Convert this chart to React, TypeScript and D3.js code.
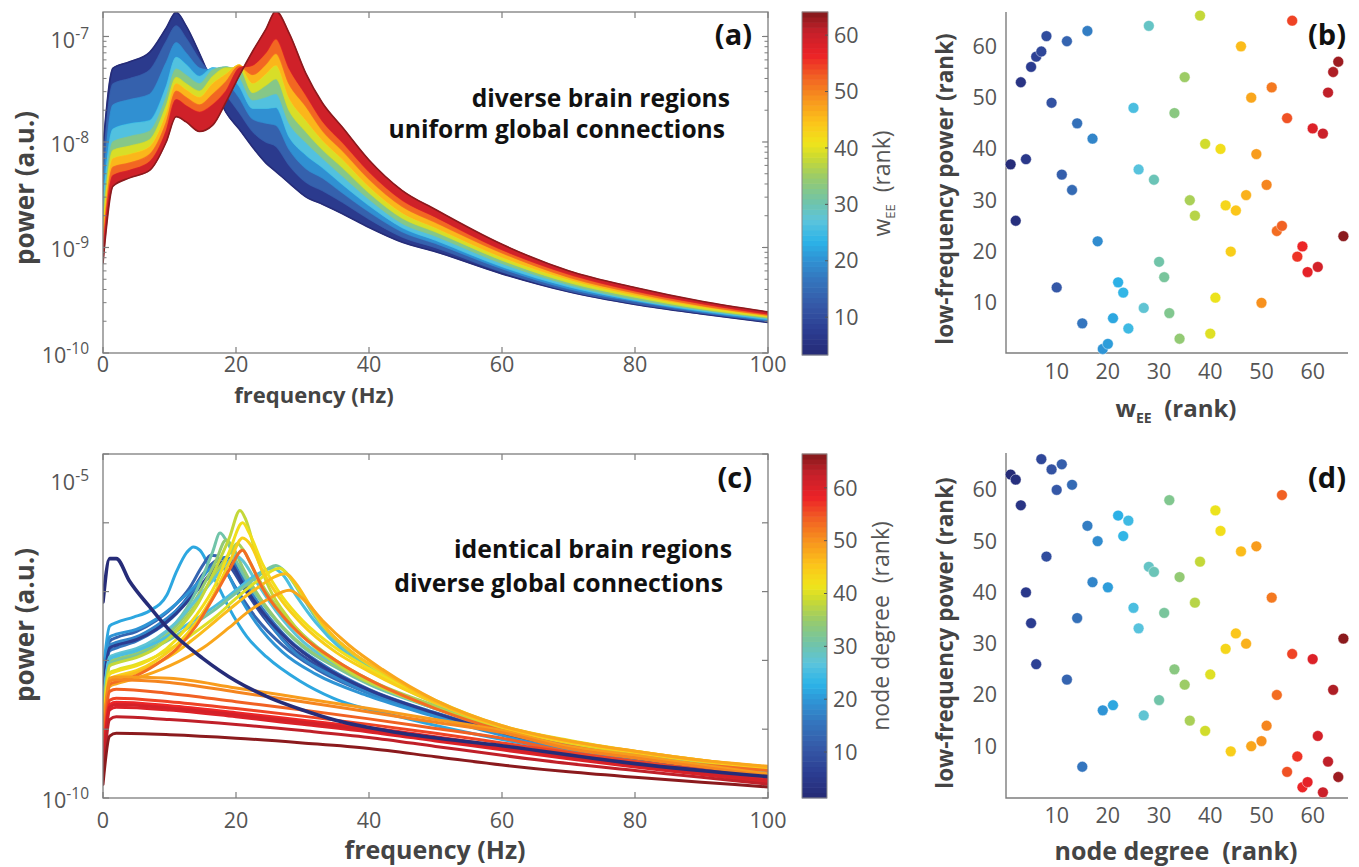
import React, { useEffect, useRef } from 'react';
import * as d3 from 'd3';

// ---- panel (a): spectra for a subset of w_EE ranks, log10(power) on freqA ----
const freqA = [0, 1.5, 4, 7, 9.5, 11, 12.5, 14.5, 16.5, 18.5, 20.5, 22.5, 24.5, 26, 28, 30.5, 33, 36, 40, 45, 50, 60, 70, 80, 90, 100];
const ranksA = [1, 8, 15, 22, 29, 36, 43, 50, 57, 66];
const spectraA = [
  [-8.05, -7.30, -7.24, -7.15, -6.92, -6.77, -6.90, -7.16, -7.45, -7.72, -7.88, -8.05, -8.20, -8.28, -8.39, -8.52, -8.59, -8.68, -8.81, -8.95, -9.04, -9.25, -9.42, -9.54, -9.63, -9.71],
  [-8.25, -7.45, -7.40, -7.32, -7.05, -6.90, -7.02, -7.22, -7.38, -7.55, -7.72, -7.90, -8.00, -8.04, -8.22, -8.38, -8.46, -8.57, -8.73, -8.90, -9.00, -9.23, -9.41, -9.53, -9.62, -9.70],
  [-8.45, -7.65, -7.60, -7.55, -7.25, -7.06, -7.16, -7.30, -7.33, -7.42, -7.58, -7.78, -7.82, -7.84, -8.07, -8.25, -8.34, -8.48, -8.66, -8.85, -8.96, -9.20, -9.39, -9.51, -9.61, -9.69],
  [-8.60, -7.88, -7.83, -7.80, -7.48, -7.20, -7.27, -7.38, -7.30, -7.33, -7.47, -7.68, -7.68, -7.67, -7.95, -8.12, -8.24, -8.40, -8.60, -8.81, -8.93, -9.18, -9.37, -9.50, -9.60, -9.68],
  [-8.70, -8.00, -7.95, -7.90, -7.58, -7.31, -7.37, -7.45, -7.32, -7.29, -7.38, -7.60, -7.57, -7.54, -7.82, -8.00, -8.15, -8.32, -8.54, -8.77, -8.89, -9.15, -9.35, -9.49, -9.59, -9.67],
  [-8.80, -8.08, -8.04, -7.98, -7.66, -7.39, -7.45, -7.52, -7.38, -7.30, -7.30, -7.53, -7.46, -7.40, -7.70, -7.90, -8.07, -8.24, -8.48, -8.72, -8.85, -9.12, -9.33, -9.47, -9.58, -9.66],
  [-8.90, -8.16, -8.12, -8.05, -7.74, -7.45, -7.51, -7.58, -7.45, -7.36, -7.27, -7.44, -7.35, -7.27, -7.58, -7.79, -7.98, -8.16, -8.42, -8.67, -8.81, -9.09, -9.30, -9.45, -9.56, -9.65],
  [-8.98, -8.24, -8.20, -8.12, -7.82, -7.52, -7.58, -7.65, -7.55, -7.43, -7.28, -7.36, -7.26, -7.16, -7.45, -7.66, -7.89, -8.08, -8.35, -8.61, -8.76, -9.05, -9.28, -9.43, -9.55, -9.64],
  [-9.06, -8.32, -8.27, -8.19, -7.90, -7.60, -7.66, -7.72, -7.65, -7.52, -7.30, -7.27, -7.15, -7.02, -7.30, -7.55, -7.80, -8.00, -8.28, -8.55, -8.71, -9.02, -9.25, -9.41, -9.53, -9.63],
  [-9.15, -8.42, -8.34, -8.27, -8.00, -7.76, -7.81, -7.90, -7.84, -7.62, -7.37, -7.14, -6.93, -6.76, -6.97, -7.35, -7.63, -7.86, -8.17, -8.46, -8.64, -8.97, -9.22, -9.38, -9.51, -9.61],
];

// ---- panel (c): spectra for a subset of node-degree ranks, [freq, log10(power)] ----
const ranksC = [21, 8, 12, 15, 17, 19, 5, 30, 34, 36, 27, 25, 31, 38, 40, 42, 44, 46, 48, 53, 49, 51, 54, 56, 58, 60, 61, 63, 66, 1];
const spectraC = [
  [[0, -8.2], [1, -7.5], [2, -7.45], [4.6, -7.37], [7, -7.28], [9.6, -7.05], [11, -6.72], [12.6, -6.43], [13.6, -6.35], [14.6, -6.4], [16.6, -6.78], [19.6, -7.35], [21.6, -7.65], [24.6, -7.95], [29.6, -8.3], [34.6, -8.55], [44.6, -8.82], [60, -9.15], [80, -9.45], [100, -9.63]],
  [[0, -8.5], [1, -7.8], [2, -7.76], [5, -7.68], [8, -7.52], [11, -7.28], [13, -7.05], [15, -6.75], [17, -6.55], [18, -6.52], [19, -6.62], [21, -6.92], [24, -7.35], [28, -7.78], [33, -8.12], [40, -8.45], [50, -8.78], [60, -9.05], [80, -9.43], [100, -9.65]],
  [[0, -8.4], [1, -7.72], [2, -7.67], [5, -7.58], [8, -7.42], [11, -7.18], [13, -6.95], [15, -6.62], [16.2, -6.47], [17, -6.48], [18, -6.62], [20, -6.95], [23, -7.38], [27, -7.78], [32, -8.12], [40, -8.48], [50, -8.8], [60, -9.07], [80, -9.44], [100, -9.66]],
  [[0, -8.5], [1, -7.86], [2, -7.82], [5, -7.72], [8, -7.56], [11, -7.32], [14, -6.93], [16.5, -6.6], [18.5, -6.5], [19.5, -6.56], [21, -6.82], [24, -7.25], [28, -7.7], [33, -8.06], [40, -8.42], [50, -8.76], [60, -9.04], [80, -9.42], [100, -9.64]],
  [[0, -8.45], [1, -7.78], [2, -7.74], [5, -7.66], [8, -7.5], [11, -7.28], [14, -6.98], [17, -6.7], [19, -6.55], [20, -6.58], [22, -6.95], [25, -7.45], [29, -7.9], [34, -8.2], [40, -8.48], [50, -8.8], [60, -9.07], [80, -9.44], [100, -9.65]],
  [[0, -8.35], [1, -7.66], [2, -7.62], [5, -7.55], [8, -7.4], [11, -7.18], [14, -6.9], [16, -6.68], [17.5, -6.62], [18.5, -6.7], [20, -6.98], [23, -7.45], [27, -7.88], [32, -8.2], [40, -8.52], [50, -8.82], [60, -9.09], [80, -9.45], [100, -9.66]],
  [[0, -8.45], [1, -7.82], [2, -7.78], [5, -7.7], [8, -7.55], [11, -7.32], [14, -7.0], [16.5, -6.7], [18.5, -6.55], [19.5, -6.62], [21, -6.88], [24, -7.3], [28, -7.72], [33, -8.08], [40, -8.43], [50, -8.77], [60, -9.05], [80, -9.42], [100, -9.65]],
  [[0, -8.7], [1, -7.98], [2, -7.94], [5, -7.86], [8, -7.7], [11, -7.45], [14, -7.0], [16.5, -6.42], [17.6, -6.15], [18.5, -6.25], [20, -6.55], [22, -6.9], [25, -7.3], [30, -7.8], [35, -8.1], [40, -8.35], [50, -8.7], [60, -8.98], [80, -9.38], [100, -9.6]],
  [[0, -8.75], [1, -8.02], [2, -7.98], [5, -7.9], [8, -7.75], [11, -7.5], [14, -7.1], [17, -6.55], [18.5, -6.25], [19.5, -6.35], [21, -6.65], [23, -7.0], [26, -7.4], [30, -7.78], [35, -8.08], [40, -8.33], [50, -8.68], [60, -8.97], [80, -9.37], [100, -9.59]],
  [[0, -8.8], [1, -8.06], [2, -8.02], [5, -7.94], [8, -7.8], [11, -7.56], [14, -7.18], [17, -6.72], [19, -6.45], [20.2, -6.3], [21, -6.38], [23, -6.75], [26, -7.2], [30, -7.62], [35, -8.0], [40, -8.28], [50, -8.66], [60, -8.97], [80, -9.37], [100, -9.59]],
  [[0, -8.65], [1, -7.95], [2, -7.91], [5, -7.83], [8, -7.68], [11, -7.45], [14, -7.12], [17, -6.78], [19, -6.55], [20, -6.48], [21, -6.55], [23, -6.85], [26, -7.28], [30, -7.72], [35, -8.05], [40, -8.32], [50, -8.7], [60, -8.99], [80, -9.39], [100, -9.61]],
  [[0, -8.7], [1, -7.98], [2, -7.94], [5, -7.86], [8, -7.74], [11, -7.58], [14, -7.4], [17, -7.2], [20, -6.98], [23, -6.76], [25.5, -6.66], [27, -6.75], [29, -7.05], [32, -7.45], [36, -7.85], [40, -8.12], [50, -8.62], [60, -8.97], [80, -9.37], [100, -9.6]],
  [[0, -8.78], [1, -8.05], [2, -8.01], [5, -7.93], [8, -7.8], [11, -7.64], [14, -7.45], [17, -7.25], [20, -7.02], [23, -6.8], [26, -6.62], [27.5, -6.72], [29.5, -7.0], [32, -7.38], [36, -7.8], [40, -8.08], [50, -8.6], [60, -8.96], [80, -9.36], [100, -9.59]],
  [[0, -8.85], [1, -8.08], [2, -8.04], [5, -7.96], [8, -7.82], [11, -7.58], [14, -7.22], [17, -6.65], [19, -6.22], [20.6, -5.82], [21.5, -5.96], [23, -6.45], [25, -6.95], [28, -7.4], [32, -7.82], [38, -8.22], [45, -8.52], [55, -8.85], [70, -9.2], [85, -9.46], [100, -9.58]],
  [[0, -8.92], [1, -8.18], [2, -8.14], [5, -8.06], [8, -7.94], [11, -7.78], [14, -7.58], [17, -7.36], [20, -7.1], [23, -6.86], [26.6, -6.66], [28, -6.78], [30, -7.05], [33, -7.48], [37, -7.85], [42, -8.18], [50, -8.58], [60, -8.95], [70, -9.16], [80, -9.32], [90, -9.45], [100, -9.55]],
  [[0, -8.95], [1, -8.2], [2, -8.16], [5, -8.08], [8, -7.94], [11, -7.7], [14, -7.35], [17, -6.88], [19, -6.42], [21, -6.0], [22, -6.15], [24, -6.6], [27, -7.08], [30, -7.42], [35, -7.82], [40, -8.12], [50, -8.6], [60, -8.96], [70, -9.18], [80, -9.33], [90, -9.46], [100, -9.56]],
  [[0, -9.0], [1, -8.27], [2, -8.23], [5, -8.15], [8, -8.0], [11, -7.78], [14, -7.45], [17, -6.98], [19, -6.58], [21, -6.22], [22.2, -6.32], [24, -6.7], [27, -7.15], [30, -7.48], [35, -7.88], [40, -8.16], [50, -8.62], [60, -8.97], [80, -9.34], [100, -9.57]],
  [[0, -9.02], [1, -8.3], [2, -8.26], [5, -8.18], [8, -8.05], [11, -7.88], [14, -7.66], [17, -7.42], [20, -7.18], [23, -6.96], [27.5, -6.74], [29, -6.88], [31, -7.18], [34, -7.58], [38, -7.92], [42, -8.16], [50, -8.6], [60, -8.96], [70, -9.17], [80, -9.32], [90, -9.45], [100, -9.55]],
  [[0, -9.1], [1, -8.38], [2, -8.34], [5, -8.26], [10, -8.08], [15, -7.82], [19, -7.52], [22, -7.28], [25, -7.1], [28, -6.98], [30, -7.1], [33, -7.42], [37, -7.78], [42, -8.13], [50, -8.58], [60, -8.95], [70, -9.17], [80, -9.32], [90, -9.45], [100, -9.54]],
  [[0, -9.1], [1, -8.35], [2, -8.31], [5, -8.22], [8, -8.06], [11, -7.84], [14, -7.5], [17, -7.02], [19, -6.68], [21, -6.4], [22, -6.55], [24, -6.95], [27, -7.35], [30, -7.65], [35, -8.0], [40, -8.28], [50, -8.7], [60, -9.02], [80, -9.4], [100, -9.6]],
  [[0, -9.3], [1, -8.26], [2, -8.24], [10, -8.26], [20, -8.4], [30, -8.55], [40, -8.7], [50, -8.86], [60, -9.02], [70, -9.25], [80, -9.38], [90, -9.52], [100, -9.65]],
  [[0, -9.35], [1, -8.3], [2, -8.28], [10, -8.32], [20, -8.46], [30, -8.6], [40, -8.75], [50, -8.9], [60, -9.05], [70, -9.28], [80, -9.42], [90, -9.55], [100, -9.68]],
  [[0, -9.45], [1, -8.45], [2, -8.42], [10, -8.48], [20, -8.6], [30, -8.72], [40, -8.85], [50, -8.99], [60, -9.13], [70, -9.33], [80, -9.47], [90, -9.6], [100, -9.72]],
  [[0, -9.55], [1, -8.58], [2, -8.55], [10, -8.6], [20, -8.7], [30, -8.81], [40, -8.93], [50, -9.06], [60, -9.2], [70, -9.34], [80, -9.47], [90, -9.59], [100, -9.72]],
  [[0, -9.6], [1, -8.64], [2, -8.61], [10, -8.66], [20, -8.76], [30, -8.87], [40, -8.98], [50, -9.11], [60, -9.25], [70, -9.38], [80, -9.5], [90, -9.62], [100, -9.74]],
  [[0, -9.65], [1, -8.72], [2, -8.68], [10, -8.72], [20, -8.82], [30, -8.93], [40, -9.04], [50, -9.17], [60, -9.3], [70, -9.43], [80, -9.55], [90, -9.66], [100, -9.77]],
  [[0, -9.62], [1, -8.68], [2, -8.64], [10, -8.69], [20, -8.79], [30, -8.9], [40, -9.01], [50, -9.14], [60, -9.27], [70, -9.4], [80, -9.52], [90, -9.64], [100, -9.75]],
  [[0, -9.72], [1, -8.86], [2, -8.82], [10, -8.86], [20, -8.93], [30, -9.02], [40, -9.12], [50, -9.25], [60, -9.38], [70, -9.5], [80, -9.6], [90, -9.7], [100, -9.8]],
  [[0, -9.8], [1, -9.1], [2, -9.06], [10, -9.08], [20, -9.13], [30, -9.2], [40, -9.28], [50, -9.4], [60, -9.52], [70, -9.62], [80, -9.7], [90, -9.77], [100, -9.84]],
  [[0, -7.15], [1, -6.52], [2, -6.52], [4, -6.85], [7, -7.22], [10, -7.56], [15, -7.97], [20, -8.3], [25, -8.54], [30, -8.72], [35, -8.87], [45, -9.06], [60, -9.24], [80, -9.5], [100, -9.69]],
];

// ---- panels (b), (d): low-frequency power rank for x rank 1..66 ----
const lfpRankB = [37, 26, 53, 38, 56, 58, 59, 62, 49, 13, 35, 61, 32, 45, 6, 63, 42, 22, 1, 2, 7, 14, 12, 5, 48, 36, 9, 64, 34, 18, 15, 8, 47, 3, 54, 30, 27, 66, 41, 4, 11, 40, 29, 20, 28, 60, 31, 50, 39, 10, 33, 52, 24, 25, 46, 65, 19, 21, 16, 44, 17, 43, 51, 55, 57, 23];
const lfpRankD = [63, 62, 57, 40, 34, 26, 66, 47, 64, 60, 65, 23, 61, 35, 6, 53, 42, 50, 17, 41, 18, 55, 51, 54, 37, 33, 16, 45, 44, 19, 36, 58, 25, 43, 22, 15, 38, 46, 13, 24, 56, 52, 29, 9, 32, 48, 30, 10, 49, 11, 14, 39, 20, 59, 5, 28, 8, 2, 3, 27, 12, 1, 7, 21, 4, 31];

const freqTicks = [0, 20, 40, 60, 80, 100];
const rankTicks = [10, 20, 30, 40, 50, 60];
const decadesA = [-10, -9, -8, -7];
const decadesC = [-10, -9, -8, -7, -6, -5];

const cmapPos = [0, 0.07, 0.14, 0.22, 0.28, 0.33, 0.39, 0.45, 0.52, 0.58, 0.62, 0.68, 0.75, 0.82, 0.88, 0.95, 1];
const cmapCol = ['#262c78', '#2c3e93', '#3559a7', '#3477bf', '#2f96d6', '#2cb4e8', '#5cc4dc', '#72c4a6', '#9acb69', '#cddb2e', '#f0e41b', '#fcc41a', '#f7941e', '#f15d23', '#ec2227', '#c4202a', '#8b1a1d'];

const W = 1359;
const H = 867;
const FONT = "'Open Sans', 'Noto Sans', sans-serif";
const AXIS = '#7d7d7d';
const TICKTXT = '#555';
const LABEL = '#444';
const TICK_FS = 21.5;

const cmap = d3.scaleLinear<string>().domain(cmapPos).range(cmapCol).interpolate(d3.interpolateRgb);
const rankColor = (r: number) => cmap((r - 1) / 65);

export default function App() {
  const svgRef = useRef<SVGSVGElement>(null);

  useEffect(() => {
    const svg = d3.select(svgRef.current);
    svg.selectAll('*').remove();
    svg.append('rect').attr('width', W).attr('height', H).attr('fill', '#fff');

    const boxA = { l: 103, r: 768, t: 12, b: 353 };
    const boxC = { l: 103, r: 768, t: 454, b: 798 };
    const boxB = { l: 1006, r: 1348, t: 12, b: 353 };
    const boxD = { l: 1006, r: 1348, t: 453, b: 798 };

    const xA = d3.scaleLinear().domain([0, 100]).range([boxA.l, boxA.r]);
    const yA = d3.scaleLog().domain([1e-10, 10 ** -6.768]).range([boxA.b, boxA.t]);
    const xC = d3.scaleLinear().domain([0, 100]).range([boxC.l, boxC.r]);
    const yC = d3.scaleLog().domain([1e-10, 1e-5]).range([boxC.b, boxC.t]);

    const defs = svg.append('defs');
    [['clipA', boxA], ['clipC', boxC]].forEach(([id, b]: any) => {
      defs.append('clipPath').attr('id', id).append('rect')
        .attr('x', b.l).attr('y', b.t).attr('width', b.r - b.l).attr('height', b.b - b.t);
    });

    // ---------- panel (a) ----------
    const gA = svg.append('g').attr('clip-path', 'url(#clipA)');
    const idx = freqA.map((_, i) => i);
    const lineA = (vals: number[]) =>
      d3.line<number>().x(i => xA(freqA[i])).y(i => yA(10 ** vals[i])).curve(d3.curveMonotoneX)(idx);
    for (let k = 0; k < spectraA.length - 1; k++) {
      const lo = spectraA[k];
      const hi = spectraA[k + 1];
      const c = rankColor((ranksA[k] + ranksA[k + 1]) / 2);
      const area = d3.area<number>()
        .x(i => xA(freqA[i]))
        .y0(i => yA(10 ** lo[i]))
        .y1(i => yA(10 ** hi[i]))
        .curve(d3.curveMonotoneX);
      gA.append('path').attr('d', area(idx)).attr('fill', c).attr('stroke', c).attr('stroke-width', 0.8);
      if (k === 0) {
        gA.append('path').attr('d', lineA(lo)).attr('fill', 'none')
          .attr('stroke', rankColor(ranksA[k])).attr('stroke-width', 1.6);
      }
      gA.append('path').attr('d', lineA(hi)).attr('fill', 'none')
        .attr('stroke', rankColor(ranksA[k + 1])).attr('stroke-width', 1.6);
    }

    // ---------- panel (c) ----------
    const gC = svg.append('g').attr('clip-path', 'url(#clipC)');
    const lineC = d3.line<number[]>().x(d => xC(d[0])).y(d => yC(10 ** d[1])).curve(d3.curveMonotoneX);
    spectraC.forEach((pts, i) => {
      const r = ranksC[i];
      gC.append('path').attr('d', lineC(pts)).attr('fill', 'none')
        .attr('stroke', rankColor(r)).attr('stroke-width', r === 1 ? 3.6 : 3)
        .attr('stroke-linejoin', 'round').attr('stroke-linecap', 'round');
    });

    // ---------- frequency axes ----------
    const freqAxes = (box: any, x: any, y: any, decades: number[], labelled: number[], minor: boolean, tickLabelY: number, topLabelShift: number) => {
      const g = svg.append('g');
      g.append('rect').attr('x', box.l).attr('y', box.t).attr('width', box.r - box.l).attr('height', box.b - box.t)
        .attr('fill', 'none').attr('stroke', AXIS).attr('stroke-width', 1.3);
      freqTicks.forEach(t => {
        g.append('line').attr('x1', x(t)).attr('x2', x(t)).attr('y1', box.b).attr('y2', box.b - 6).attr('stroke', AXIS).attr('stroke-width', 1.2);
        g.append('line').attr('x1', x(t)).attr('x2', x(t)).attr('y1', box.t).attr('y2', box.t + 6).attr('stroke', AXIS).attr('stroke-width', 1.2);
        g.append('text').attr('x', x(t)).attr('y', tickLabelY).attr('text-anchor', 'middle')
          .attr('font-size', TICK_FS).attr('fill', TICKTXT).text(t);
      });
      decades.forEach(d => {
        const py = y(10 ** d);
        g.append('line').attr('x1', box.l).attr('x2', box.l + 6).attr('y1', py).attr('y2', py).attr('stroke', AXIS).attr('stroke-width', 1.2);
        g.append('line').attr('x1', box.r).attr('x2', box.r - 6).attr('y1', py).attr('y2', py).attr('stroke', AXIS).attr('stroke-width', 1.2);
        if (minor) {
          for (let m = 2; m <= 9; m++) {
            const v = m * 10 ** d;
            if (v > y.domain()[1]) break;
            const my = y(v);
            g.append('line').attr('x1', box.l).attr('x2', box.l + 3.5).attr('y1', my).attr('y2', my).attr('stroke', AXIS).attr('stroke-width', 1);
            g.append('line').attr('x1', box.r).attr('x2', box.r - 3.5).attr('y1', my).attr('y2', my).attr('stroke', AXIS).attr('stroke-width', 1);
          }
        }
        if (labelled.includes(d)) {
          const shift = d === labelled[labelled.length - 1] ? topLabelShift : 0;
          const txt = g.append('text').attr('x', 89).attr('y', py + 10 + shift).attr('text-anchor', 'end')
            .attr('font-size', TICK_FS).attr('fill', TICKTXT);
          txt.append('tspan').text('10');
          txt.append('tspan').attr('dy', -9).attr('font-size', 15.5).text(`-${-d}`);
        }
      });
    };
    freqAxes(boxA, xA, yA, decadesA, decadesA, true, 372, 2);
    freqAxes(boxC, xC, yC, decadesC, [-10, -5], false, 828, 26);

    // ---------- scatter panels ----------
    const scatter = (box: any, yDom: number[], vals: number[], tickLabelY: number) => {
      const x = d3.scaleLinear().domain([0.1, 66.9]).range([box.l, box.r]);
      const y = d3.scaleLinear().domain(yDom).range([box.b, box.t]);
      const g = svg.append('g');
      g.append('path').attr('d', `M${box.l},${box.t}V${box.b}H${box.r}`)
        .attr('fill', 'none').attr('stroke', AXIS).attr('stroke-width', 1.4);
      rankTicks.forEach(t => {
        g.append('text').attr('x', x(t)).attr('y', tickLabelY).attr('text-anchor', 'middle')
          .attr('font-size', TICK_FS).attr('fill', TICKTXT).text(t);
        g.append('text').attr('x', box.l - 9).attr('y', y(t) + 7.5).attr('text-anchor', 'end')
          .attr('font-size', TICK_FS).attr('fill', TICKTXT).text(t);
      });
      vals.forEach((v, i) => {
        g.append('circle').attr('cx', x(i + 1)).attr('cy', y(v)).attr('r', 5.4)
          .attr('fill', rankColor(i + 1)).attr('stroke', '#fff').attr('stroke-opacity', 0.55).attr('stroke-width', 0.8);
      });
    };
    scatter(boxB, [0.22, 66.7], lfpRankB, 379);
    scatter(boxD, [-0.1, 67.2], lfpRankD, 823);

    // ---------- colorbars ----------
    const colorbar = (b: any, tickDom: number[], label: string, sub: string | null, rest: string) => {
      const g = svg.append('g');
      const band = d3.scaleBand<number>().domain(d3.range(1, 67)).range([b.b, b.t]);
      d3.range(1, 67).forEach(r => {
        g.append('rect').attr('x', b.l).attr('y', band(r)! - 0.3).attr('width', b.r - b.l)
          .attr('height', band.bandwidth() + 0.6).attr('fill', rankColor(r));
      });
      g.append('rect').attr('x', b.l).attr('y', b.t).attr('width', b.r - b.l).attr('height', b.b - b.t)
        .attr('fill', 'none').attr('stroke', '#8a8a8a').attr('stroke-width', 1);
      const s = d3.scaleLinear().domain(tickDom).range([b.b, b.t]);
      rankTicks.forEach(t => {
        g.append('line').attr('x1', b.r).attr('x2', b.r - 3).attr('y1', s(t)).attr('y2', s(t)).attr('stroke', '#555').attr('stroke-width', 1);
        g.append('text').attr('x', b.r + 6).attr('y', s(t) + 7.7).attr('font-size', TICK_FS).attr('fill', TICKTXT).text(t);
      });
      const cy = (b.t + b.b) / 2;
      const t = g.append('text').attr('transform', `translate(${b.r + 62},${cy}) rotate(-90)`)
        .attr('text-anchor', 'middle').attr('font-size', 23).attr('fill', TICKTXT).style('white-space', 'pre');
      t.append('tspan').text(label);
      if (sub) {
        t.append('tspan').attr('dy', 5).attr('font-size', 13).text(sub);
        t.append('tspan').attr('dy', -5).text(rest);
      } else {
        t.append('tspan').text(rest);
      }
    };
    colorbar({ l: 802, r: 828, t: 12, b: 355 }, [3.3, 64.1], 'w', 'EE', '  (rank)');
    colorbar({ l: 802, r: 827, t: 454, b: 798 }, [1.3, 66.4], 'node degree', null, '  (rank)');

    // ---------- axis labels and annotations ----------
    const bold = (x: number, y: number, rot: boolean, parts: [string, boolean][], anchor = 'middle', fill = LABEL, size = 24) => {
      const t = svg.append('text').attr('font-size', size).attr('font-weight', 700).attr('fill', fill)
        .attr('text-anchor', anchor).style('white-space', 'pre')
        .attr('transform', rot ? `translate(${x},${y}) rotate(-90)` : `translate(${x},${y})`);
      parts.forEach(([s, isSub], i) => {
        const sp = t.append('tspan').text(s);
        if (isSub) sp.attr('dy', 6).attr('font-size', 14);
        else if (i > 0 && parts[i - 1][1]) sp.attr('dy', -6);
      });
    };
    bold(34, 188, true, [['power (a.u.)', false]], 'middle', LABEL, 26);
    bold(34, 625, true, [['power (a.u.)', false]], 'middle', LABEL, 26);
    bold(314, 403, false, [['frequency (Hz)', false]], 'middle', LABEL, 22);
    bold(435, 859, false, [['frequency (Hz)', false]], 'middle', LABEL, 25);
    bold(953, 189, true, [['low-frequency power (rank)', false]], 'middle', LABEL, 22.5);
    bold(953, 633, true, [['low-frequency power (rank)', false]], 'middle', LABEL, 22.5);
    bold(1176, 417, false, [['w', false], ['EE', true], ['  (rank)', false]]);
    bold(1176, 860, false, [['node degree  (rank)', false]], 'middle', LABEL, 25);

    bold(730, 107, false, [['diverse brain regions', false]], 'end', '#111', 24.6);
    bold(725, 138, false, [['uniform global connections', false]], 'end', '#111', 24.6);
    bold(732, 558, false, [['identical brain regions', false]], 'end', '#111', 24.8);
    bold(723, 592, false, [['diverse global connections', false]], 'end', '#111', 24.8);
    bold(752, 45, false, [['(a)', false]], 'end', '#111', 29);
    bold(1346, 45, false, [['(b)', false]], 'end', '#111', 29);
    bold(752, 488, false, [['(c)', false]], 'end', '#111', 29);
    bold(1346, 488, false, [['(d)', false]], 'end', '#111', 29);
  }, []);

  return (
    <div style={{ width: W, height: H, background: '#fff' }}>
      <style>{'body{margin:0}'}</style>
      <svg ref={svgRef} width={W} height={H} style={{ display: 'block', fontFamily: FONT }} />
    </div>
  );
}
